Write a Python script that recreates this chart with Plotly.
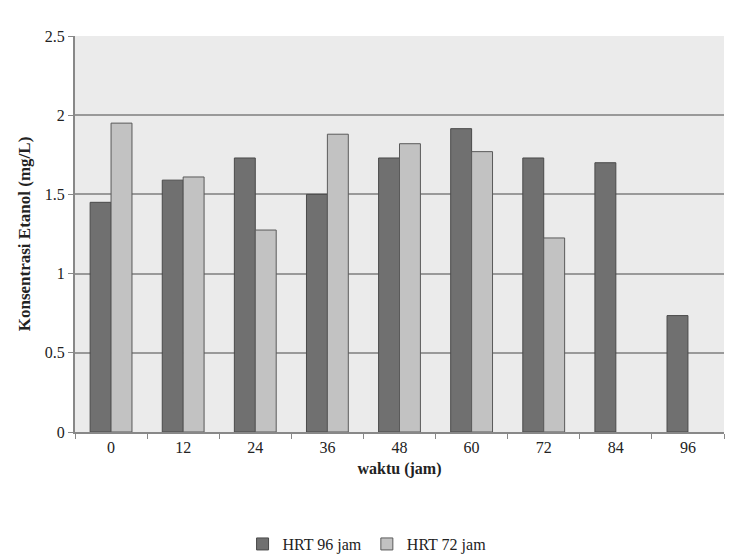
import plotly.graph_objects as go

waktu = ["0", "12", "24", "36", "48", "60", "72", "84", "96"]
hrt96 = [1.45, 1.59, 1.73, 1.50, 1.73, 1.915, 1.73, 1.70, 0.735]
hrt72 = [1.95, 1.61, 1.275, 1.88, 1.82, 1.77, 1.225, None, None]
y_ticks = [0, 0.5, 1, 1.5, 2, 2.5]
y_ticklabels = ["0", "0.5", "1", "1.5", "2", "2.5"]

font_family = "Liberation Serif"

fig = go.Figure()
fig.add_trace(go.Bar(
    x=waktu, y=hrt96, name="HRT 96 jam",
    marker=dict(color="#707070", line=dict(color="#4a4a4a", width=1)),
))
fig.add_trace(go.Bar(
    x=waktu, y=hrt72, name="HRT 72 jam",
    marker=dict(color="#c2c2c2", line=dict(color="#5a5a5a", width=1)),
))

fig.update_layout(
    width=734, height=555,
    barmode="group", bargap=0.42, bargroupgap=0.0,
    plot_bgcolor="#ebebeb", paper_bgcolor="white",
    margin=dict(l=75, r=10, t=36, b=123, autoexpand=False),
    font=dict(family=font_family, size=16, color="#222"),
    showlegend=True,
    legend=dict(orientation="h", x=0.45, xanchor="center", y=-0.24, yanchor="top",
                font=dict(family=font_family, size=16, color="#222"),
                itemwidth=30, traceorder="normal"),
    xaxis=dict(
        type="category", tickson="boundaries", ticks="outside", ticklen=5,
        tickcolor="#888", showline=True, linecolor="#888", linewidth=2,
        showgrid=False,
        title=dict(text="<b>waktu (jam)</b>", font=dict(family=font_family, size=16), standoff=8),
        tickfont=dict(family=font_family, size=16),
    ),
    yaxis=dict(
        range=[0, 2.5], tickvals=y_ticks, ticktext=y_ticklabels,
        ticks="outside", ticklen=5, tickcolor="#888",
        showline=True, linecolor="#888", linewidth=2,
        showgrid=True, gridcolor="#999", gridwidth=2, zeroline=False,
        title=dict(text="<b>Konsentrasi Etanol (mg/L)</b>", font=dict(family=font_family, size=17), standoff=10),
        tickfont=dict(family=font_family, size=16),
    ),
)

fig.write_html("out.html")
